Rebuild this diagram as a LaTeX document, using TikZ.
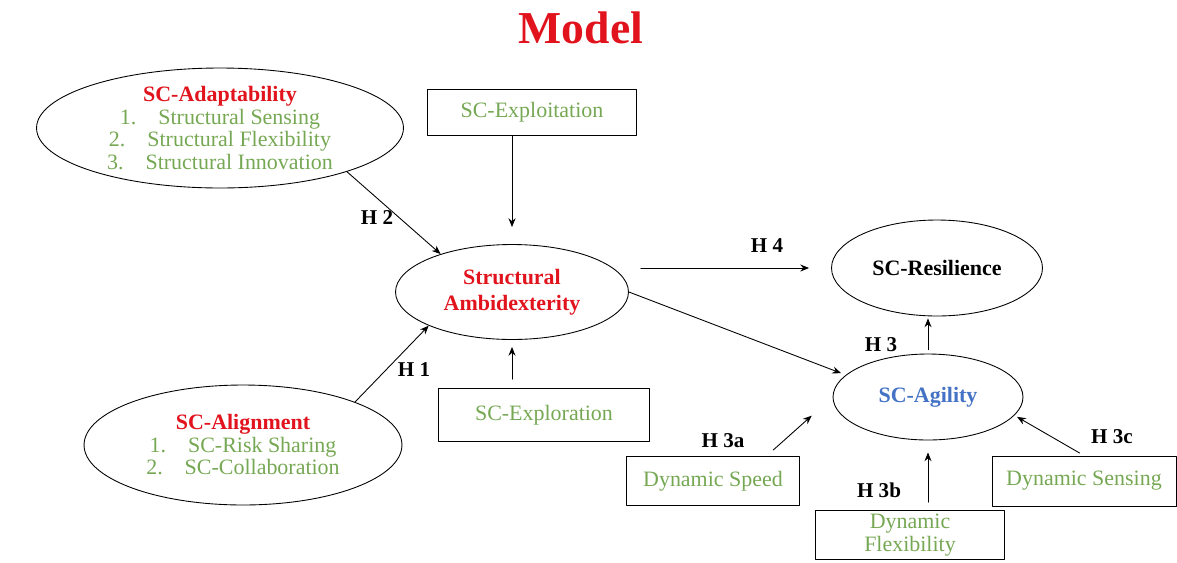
\documentclass[tikz,border=0pt]{standalone}
\usepackage{fontspec}
\setmainfont{Liberation Serif}
\usetikzlibrary{shapes.geometric, arrows.meta}

\definecolor{modelred}{RGB}{225,20,30}
\definecolor{itemgreen}{RGB}{118,168,84}
\definecolor{agilblue}{RGB}{68,114,196}

\tikzset{
  construct/.style={ellipse, draw, line width=0.5pt, inner sep=0pt, align=center,
    font=\fontsize{12.5}{12.8}\selectfont},
  indicator/.style={rectangle, draw, line width=0.5pt, inner sep=1pt, align=center,
    text=itemgreen, font=\fontsize{12.5}{13.5}\selectfont},
  hyp/.style={font=\bfseries\fontsize{12}{12}\selectfont},
  link/.style={-{Stealth[length=5pt, width=4pt]}, line width=0.5pt},
}

\begin{document}
\begin{tikzpicture}[x=0.02cm, y=-0.02cm, line cap=round, line join=round]
        \useasboundingbox (0,0) rectangle (1177,562);

        % title
        \node (title) at (581,28) [text=modelred, font=\bfseries\fontsize{26}{26}\selectfont] {Model};

        % constructs
        \node[construct, minimum width=7.34cm, minimum height=2.4cm] (adapt) at (220,128)
            {\textcolor{modelred}{\textbf{SC-Adaptability}}\\
             \textcolor{itemgreen}{1.\quad Structural Sensing}\\
             \textcolor{itemgreen}{2.\quad Structural Flexibility}\\
             \textcolor{itemgreen}{3.\quad Structural Innovation}};
        \node[construct, minimum width=6.36cm, minimum height=2.4cm] (align) at (243,445)
            {\textcolor{modelred}{\textbf{SC-Alignment}}\\
             \textcolor{itemgreen}{1.\quad SC-Risk Sharing}\\
             \textcolor{itemgreen}{2.\quad SC-Collaboration}};
        \node[construct, minimum width=4.66cm, minimum height=1.9cm, text=modelred, font=\bfseries\fontsize{12.5}{15}\selectfont]
            (ambi) at (512,292) {Structural\\Ambidexterity};
        \node[construct, minimum width=4.22cm, minimum height=1.92cm, font=\bfseries\fontsize{12.5}{13}\selectfont]
            (resil) at (937,268) {SC-Resilience};
        \node[construct, minimum width=3.8cm, minimum height=1.72cm, text=agilblue, font=\bfseries\fontsize{12.5}{13}\selectfont]
            (agil) at (928,397) {SC-Agility};

        % indicator boxes
        \node[indicator, minimum width=4.18cm, minimum height=0.92cm] (exploit) at (532,112) {SC-Exploitation};
        \node[indicator, minimum width=4.22cm, minimum height=1.06cm] (explore) at (544,415) {SC-Exploration};
        \node[indicator, minimum width=3.46cm, minimum height=0.98cm] (speed) at (713,481) {Dynamic Speed};
        \node[indicator, minimum width=3.78cm, minimum height=0.98cm, font=\fontsize{12.5}{12.8}\selectfont]
            (flex) at (910,535) {Dynamic\\Flexibility};
        \node[indicator, minimum width=3.68cm, minimum height=1.0cm] (sense) at (1084,481) {Dynamic Sensing};

        % paths into ambidexterity
        \draw[link] (adapt.-19) -- (ambi.152);
        \draw[link] (align.21) -- (ambi.202);
        \draw[link, shorten >=0.34cm] (exploit.south -| ambi.north) -- (ambi.north);
        \draw[link, shorten <=0.18cm, shorten >=0.14cm] (explore.north -| ambi.south) -- (ambi.south);

        % paths to resilience and agility
        \draw[link, shorten <=0.24cm, shorten >=0.44cm] (ambi.east |- resil.west) -- (resil.west);
        \draw[link, shorten >=0.1cm] (ambi.east) -- (agil.165);
        \draw[link, shorten <=0.08cm, shorten >=0.04cm] (agil.north) -- (agil.north |- resil.south);

        % paths into agility
        \draw[link, shorten <=0.18cm, shorten >=0.56cm] (speed.25) -- (agil.west);
        \draw[link, shorten <=0.16cm, shorten >=0.24cm] (flex.north -| agil.south) -- (agil.south);
        \draw[link, shorten <=0.1cm, shorten >=0.06cm] (sense.north) -- (agil.-12);

        % hypothesis labels
        \node[hyp] (h2) at (377,218) {H 2};
        \node[hyp] (h1) at (414,370) {H 1};
        \node[hyp] (h4) at (767,246) {H 4};
        \node[hyp] (h3) at (881,345) {H 3};
        \node[hyp] (h3a) at (723,441) {H 3a};
        \node[hyp] (h3b) at (879,490) {H 3b};
        \node[hyp] (h3c) at (1112,437) {H 3c};
    \end{tikzpicture}
\end{document}
